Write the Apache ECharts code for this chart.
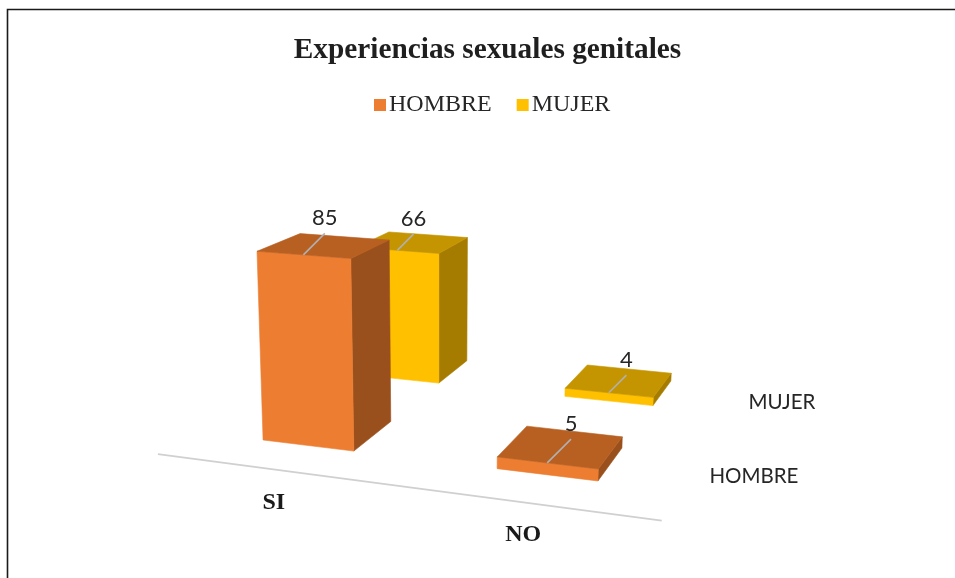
<!DOCTYPE html>
<html><head><meta charset="utf-8">
<style>html,body{margin:0;padding:0;background:#fff}#c{width:955px;height:578px}</style>
<script src="https://cdn.jsdelivr.net/npm/echarts@6/dist/echarts.min.js"></script>
</head><body><div id="c"></div>
<script>
const titleText = 'Experiencias sexuales genitales';
const categories = ['SI', 'NO'];
const seriesNames = ['HOMBRE', 'MUJER'];
const hombre = [85, 5];
const mujer = [66, 4];

// Palette per series: front, side, top
const faces = [
  { front: '#ED7D31', side: '#9A501C', top: '#B85F22' },
  { front: '#FFC000', side: '#A67C00', top: '#C49500' }
];

// Camera: perspective of the chart floor (unit square in s,t -> screen)
const cam = { a: 292.5, b: 209.1, c: 263, d: 6.85, e: -12.66, f: 440, g: -0.071, h: 0.2106, vpX: 440, vpK: 5500 };
const floorStart = -0.214, floorSpan = 1.428, barFrac = 0.4, axisT = -0.217;
const gridBox = { left: 158, top: 232, width: 504, height: 222 };

function project(s, t) {
  const w = cam.g * s + cam.h * t + 1;
  return { x: (cam.a * s + cam.b * t + cam.c) / w, y: (cam.d * s + cam.e * t + cam.f) / w, w };
}
function lift(s, t, hp) {
  const p = project(s, t), h = hp / p.w;
  return [p.x + (p.x - cam.vpX) / cam.vpK * h, p.y - h];
}
const floorAt = f => floorStart + f * floorSpan;
const rowCenter = row => floorAt((row + 0.5) / seriesNames.length);
const face = (points, fill) => ({ type: 'polygon', shape: { points }, style: { fill, stroke: fill, lineWidth: 0.6 } });

function barRenderer(row) {
  return function (params, api) {
    const cat = api.value(0), val = api.value(1);
    const c = api.coord([cat, 0]);
    const band = api.size([1, 0])[0];
    const hp = api.size([0, val])[1];
    const sc = floorAt((c[0] - gridBox.left) / gridBox.width);
    const half = (band / gridBox.width) * floorSpan * barFrac / 2;
    const s0 = sc - half, s1 = sc + half;
    const tc = rowCenter(row), t0 = tc - half, t1 = tc + half;
    const g = (s, t) => { const p = project(s, t); return [p.x, p.y]; };
    const T = (s, t) => lift(s, t, hp);
    const front = [g(s0, t0), g(s1, t0), T(s1, t0), T(s0, t0)];
    const side = [g(s1, t0), g(s1, t1), T(s1, t1), T(s1, t0)];
    const top = [T(s0, t0), T(s1, t0), T(s1, t1), T(s0, t1)];
    const start = T(sc, t0);
    const wf = project(sc, t0).w, wf2 = wf * wf;
    const end = [start[0] + 21 / wf2, start[1] - 21 / wf2];
    return {
      type: 'group',
      children: [
        face(side, faces[row].side),
        face(front, faces[row].front),
        face(top, faces[row].top),
        { type: 'line', shape: { x1: start[0], y1: start[1], x2: end[0], y2: end[1] }, style: { stroke: '#B0B0B0', lineWidth: 1.6 } },
        { type: 'text', x: end[0], y: end[1] - 15.5, style: { text: String(val), fill: '#262626', font: '22px Lato', align: 'center', verticalAlign: 'middle' } }
      ]
    };
  };
}

function axisRenderer(params, api) {
  const cat = api.value(0);
  const c = api.coord([cat, 0]);
  const p = project(floorAt((c[0] - gridBox.left) / gridBox.width), axisT);
  const children = [
    { type: 'text', x: p.x - 1, y: p.y + 32.5, style: { text: categories[cat], fill: '#1a1a1a', font: 'bold 24px "Liberation Serif"', align: 'center', verticalAlign: 'middle' } }
  ];
  if (params.dataIndex === 0) {
    const a = project(floorStart, axisT), b = project(floorStart + floorSpan, axisT);
    children.push({ type: 'line', shape: { x1: a.x - 2, y1: a.y - 1, x2: b.x + 2, y2: b.y + 1 }, style: { stroke: '#D0D0D0', lineWidth: 1.8 } });
    seriesNames.forEach((n, r) => {
      const q = project(floorStart + floorSpan + 0.063, rowCenter(r));
      children.push({ type: 'text', x: q.x, y: q.y + 1, style: { text: n, fill: '#262626', font: '20.5px Lato', align: 'left', verticalAlign: 'middle' } });
    });
  }
  return { type: 'group', children };
}

const chart = echarts.init(document.getElementById('c'), null, { renderer: 'canvas' });
chart.setOption({
  animation: false,
  backgroundColor: '#fff',
  title: {
    text: titleText, left: 482.5, top: 31, textAlign: 'center',
    textStyle: { fontFamily: 'Liberation Serif', fontWeight: 'bold', fontSize: 29.3, color: '#1f1f1f' }
  },
  legend: {
    data: seriesNames, left: 369, top: 88, itemWidth: 12, itemHeight: 12, itemGap: 25, icon: 'rect',
    selectedMode: false,
    textStyle: { fontFamily: 'Liberation Serif', fontSize: 24, color: '#262626', padding: [0, 0, 0, -2] }
  },
  grid: gridBox,
  xAxis: { type: 'category', data: categories, show: false },
  yAxis: { type: 'value', min: 0, max: 100, show: false },
  graphic: [{ type: 'polyline', z: -1, shape: { points: [[7.5, 578], [7.5, 9.5], [955, 9.5]] }, style: { fill: 'none', stroke: '#1a1a1a', lineWidth: 1.6 } }],
  series: [
    { type: 'custom', name: seriesNames[0], z: 4, silent: true, itemStyle: { color: faces[0].front }, renderItem: barRenderer(0), data: hombre.map((v, i) => [i, v]) },
    { type: 'custom', name: seriesNames[1], z: 3, silent: true, itemStyle: { color: faces[1].front }, renderItem: barRenderer(1), data: mujer.map((v, i) => [i, v]) },
    { type: 'custom', name: 'ejes', z: 2, silent: true, renderItem: axisRenderer, data: categories.map((_, i) => [i, 0]) }
  ]
});
</script></body></html>
